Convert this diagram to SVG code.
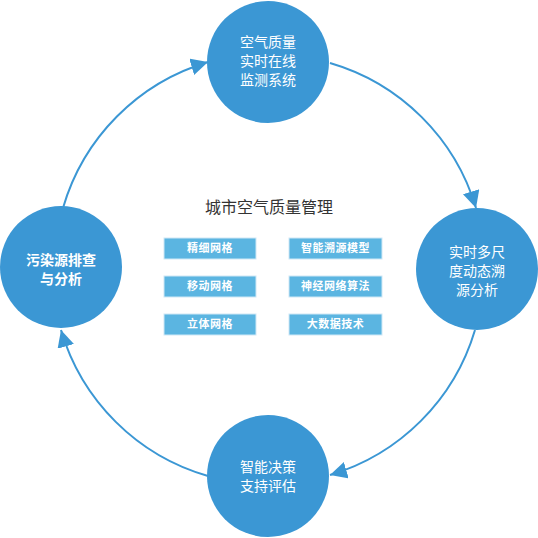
<svg xmlns="http://www.w3.org/2000/svg" width="538" height="538" viewBox="0 0 538 538">
<defs>
<style>
.node circle{fill:#3b97d4}
.ct{font-family:"Noto Sans CJK SC","Noto Sans",sans-serif;font-size:14px;fill:#fff;text-anchor:middle}
.box rect{fill:#5bb5e1;stroke:#cfe8f6;stroke-width:1}
.bt{font-family:"Noto Sans CJK SC","Noto Sans",sans-serif;font-size:11px;font-weight:bold;fill:#fff;text-anchor:middle;letter-spacing:0.5px}
.title{font-family:"Noto Sans CJK SC","Noto Sans",sans-serif;font-size:16px;fill:#333;text-anchor:middle}
.conn path{fill:none;stroke:#3b97d4;stroke-width:2}
</style>
<marker id="arr" markerUnits="userSpaceOnUse" markerWidth="17" markerHeight="17" viewBox="0 0 10 10" refX="10" refY="5" orient="auto">
<path d="M0,0 L10,5 L0,10 z" fill="#3b97d4"/>
</marker>
</defs>
<rect width="538" height="538" fill="#fff"/>
<g id="connectors" class="conn">
<path d="M63,208 A215,215 0 0 1 208,62" marker-end="url(#arr)"/>
<path d="M330,63 A215,215 0 0 1 476,208" marker-end="url(#arr)"/>
<path d="M475,330 A215,215 0 0 1 330,475" marker-end="url(#arr)"/>
<path d="M208,476 A215,215 0 0 1 61,330" marker-end="url(#arr)"/>
</g>
<g id="n-top" class="node">
<circle cx="268" cy="62" r="61"/>
<text class="ct" x="268" y="47">空气质量</text>
<text class="ct" x="268" y="66">实时在线</text>
<text class="ct" x="268" y="85">监测系统</text>
</g>
<g id="n-right" class="node">
<circle cx="477" cy="269" r="61"/>
<text class="ct" x="477" y="257">实时多尺</text>
<text class="ct" x="477" y="276">度动态溯</text>
<text class="ct" x="477" y="295">源分析</text>
</g>
<g id="n-bottom" class="node">
<circle cx="268" cy="476" r="61"/>
<text class="ct" x="268" y="472">智能决策</text>
<text class="ct" x="268" y="491">支持评估</text>
</g>
<g id="n-left" class="node">
<circle cx="61" cy="267" r="61"/>
<text class="ct" x="61" y="265" font-weight="bold">污染源排查</text>
<text class="ct" x="61" y="284" font-weight="bold">与分析</text>
</g>
<g id="title">
<text class="title" x="269" y="213">城市空气质量管理</text>
</g>
<g id="b1" class="box"><rect x="164" y="238" width="92" height="21"/><text class="bt" x="210" y="252">精细网格</text></g>
<g id="b2" class="box"><rect x="164" y="276" width="92" height="21"/><text class="bt" x="210" y="290">移动网格</text></g>
<g id="b3" class="box"><rect x="164" y="314" width="92" height="21"/><text class="bt" x="210" y="328">立体网格</text></g>
<g id="b4" class="box"><rect x="289" y="238" width="93" height="21"/><text class="bt" x="335.5" y="252">智能溯源模型</text></g>
<g id="b5" class="box"><rect x="289" y="276" width="93" height="21"/><text class="bt" x="335.5" y="290">神经网络算法</text></g>
<g id="b6" class="box"><rect x="289" y="314" width="93" height="21"/><text class="bt" x="335.5" y="328">大数据技术</text></g>
</svg>
